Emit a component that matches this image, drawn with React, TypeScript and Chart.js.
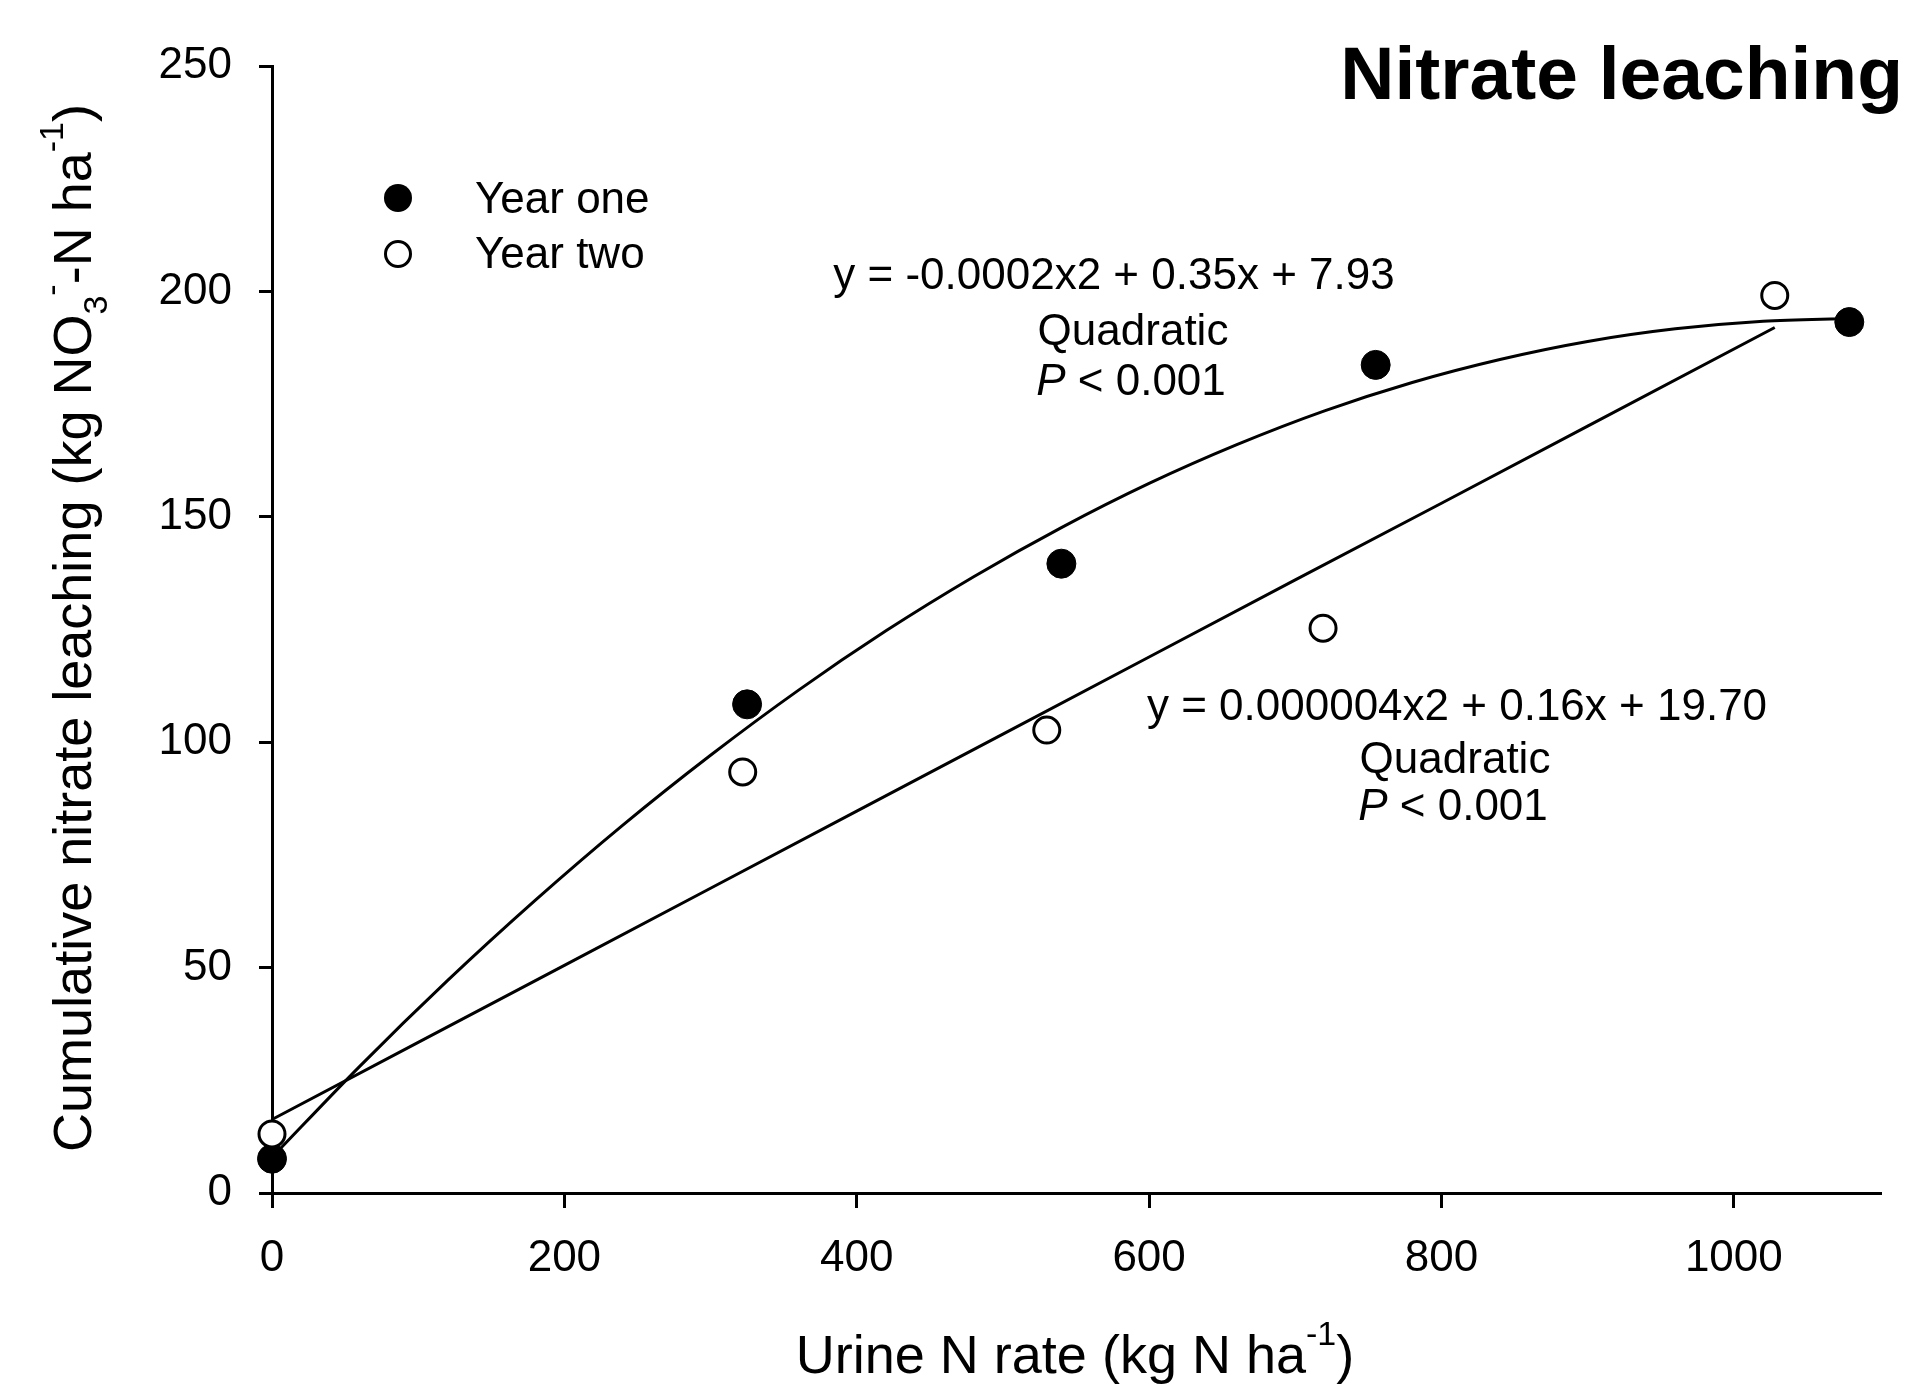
import React, { useEffect, useRef } from "react";
import { Chart, registerables } from "chart.js";

Chart.register(...registerables);

const FONT = "'Liberation Sans', Arial, Helvetica, sans-serif";

// Observed data
const yearOneX = [0, 325, 540, 755, 1079];
const yearOneY = [7.6, 108.4, 139.6, 183.7, 193.2];
const yearTwoX = [0, 322, 530, 719, 1028];
const yearTwoY = [13.1, 93.4, 102.7, 125.3, 199.1];

// Fitted curves
const fitOneX = [0, 60, 120, 180, 240, 300, 360, 420, 480, 540, 600, 660, 720, 780, 840, 900, 960, 1020, 1080];
const fitOneY = [7.9, 28.1, 47.1, 64.9, 81.6, 97.1, 111.5, 124.7, 136.7, 147.6, 157.4, 166.0, 173.5, 179.8, 184.9, 188.9, 191.7, 193.4, 194.0];
const fitTwoX = [0, 100, 200, 300, 400, 500, 600, 700, 800, 900, 1028];
const fitTwoY = [16.3, 33.4, 50.5, 67.6, 84.7, 101.8, 118.9, 136.0, 153.0, 170.1, 192.0];

const xTicks = [0, 200, 400, 600, 800, 1000];
const yTicks = [0, 50, 100, 150, 200, 250];

const legendLabels = ["Year one", "Year two"];
const eqOne = ["y = -0.0002x2 + 0.35x + 7.93", "Quadratic", "< 0.001"];
const eqTwo = ["y = 0.000004x2 + 0.16x + 19.70", "Quadratic", "< 0.001"];
const chartTitle = "Nitrate leaching";

type Part = { t: string; s: number; dy?: number; italic?: boolean; bold?: boolean };

function fontOf(p: Part) {
  return `${p.italic ? "italic " : ""}${p.bold ? "bold " : ""}${p.s}px ${FONT}`;
}

function drawParts(ctx: CanvasRenderingContext2D, parts: Part[], x: number, y: number, align: "left" | "center" | "right", baseline: CanvasTextBaseline = "alphabetic") {
  let total = 0;
  const widths = parts.map((p) => {
    ctx.font = fontOf(p);
    const w = ctx.measureText(p.t).width;
    total += w;
    return w;
  });
  let cx = align === "left" ? x : align === "center" ? x - total / 2 : x - total;
  ctx.textAlign = "left";
  ctx.textBaseline = baseline;
  parts.forEach((p, i) => {
    ctx.font = fontOf(p);
    ctx.fillText(p.t, cx, y + (p.dy || 0));
    cx += widths[i];
  });
}

const annotations = {
  id: "annotations",
  afterDraw(chart: any) {
    const ctx: CanvasRenderingContext2D = chart.ctx;
    ctx.save();
    ctx.fillStyle = "#000";

    // Title
    ctx.font = `bold 75px ${FONT}`;
    ctx.textAlign = "right";
    ctx.textBaseline = "alphabetic";
    ctx.fillText(chartTitle, 1903, 99);

    // Legend
    ctx.beginPath();
    ctx.arc(398, 198, 14, 0, Math.PI * 2);
    ctx.fill();
    ctx.beginPath();
    ctx.arc(398, 254, 12.5, 0, Math.PI * 2);
    ctx.fillStyle = "#fff";
    ctx.fill();
    ctx.lineWidth = 3;
    ctx.strokeStyle = "#000";
    ctx.stroke();
    ctx.fillStyle = "#000";
    ctx.font = `44px ${FONT}`;
    ctx.textAlign = "left";
    ctx.textBaseline = "middle";
    ctx.fillText(legendLabels[0], 475, 201);
    ctx.fillText(legendLabels[1], 475, 256);

    // Equations
    ctx.textAlign = "center";
    ctx.font = `44px ${FONT}`;
    ctx.fillText(eqOne[0], 1114, 277);
    ctx.fillText(eqOne[1], 1133, 333);
    drawParts(ctx, [{ t: "P", s: 44, italic: true }, { t: " " + eqOne[2], s: 44 }], 1131, 383, "center", "middle");
    ctx.textAlign = "center";
    ctx.font = `44px ${FONT}`;
    ctx.fillText(eqTwo[0], 1457, 708);
    ctx.fillText(eqTwo[1], 1455, 761);
    drawParts(ctx, [{ t: "P", s: 44, italic: true }, { t: " " + eqTwo[2], s: 44 }], 1453, 808, "center", "middle");

    // X axis title
    drawParts(
      ctx,
      [
        { t: "Urine N rate (kg N ha", s: 54 },
        { t: "-1", s: 34, dy: -28 },
        { t: ")", s: 54 },
      ],
      1075,
      1373,
      "center"
    );

    // Y axis title
    ctx.save();
    ctx.translate(91, 628);
    ctx.rotate(-Math.PI / 2);
    drawParts(
      ctx,
      [
        { t: "Cumulative nitrate leaching (kg NO", s: 54 },
        { t: "3", s: 34, dy: 16 },
        { t: "-", s: 34, dy: -28 },
        { t: "-N ha", s: 54 },
        { t: "-1", s: 34, dy: -28 },
        { t: ")", s: 54 },
      ],
      0,
      0,
      "center"
    );
    ctx.restore();

    ctx.restore();
  },
};

export default function App() {
  const canvasRef = useRef<HTMLCanvasElement | null>(null);

  useEffect(() => {
    if (!canvasRef.current) return;
    const pts = (xs: number[], ys: number[]) => xs.map((x, i) => ({ x, y: ys[i] }));
    const chart = new Chart(canvasRef.current, {
      type: "scatter",
      data: {
        datasets: [
          {
            label: "Year one fit",
            data: pts(fitOneX, fitOneY),
            showLine: true,
            borderColor: "#000",
            borderWidth: 3,
            pointRadius: 0,
            cubicInterpolationMode: "monotone",
            order: 3,
            clip: false,
          } as any,
          {
            label: "Year two fit",
            data: pts(fitTwoX, fitTwoY),
            showLine: true,
            borderColor: "#000",
            borderWidth: 3,
            pointRadius: 0,
            tension: 0,
            order: 3,
            clip: false,
          } as any,
          {
            label: legendLabels[0],
            data: pts(yearOneX, yearOneY),
            backgroundColor: "#000",
            borderColor: "#000",
            borderWidth: 1,
            pointRadius: 14.5,
            order: 2,
            clip: false,
          } as any,
          {
            label: legendLabels[1],
            data: pts(yearTwoX, yearTwoY),
            backgroundColor: "#fff",
            borderColor: "#000",
            borderWidth: 3,
            pointRadius: 13,
            order: 1,
            clip: false,
          } as any,
        ],
      },
      options: {
        responsive: false,
        animation: false,
        devicePixelRatio: 1,
        layout: { padding: { left: 0, right: 33, top: 66, bottom: 0 } },
        plugins: {
          legend: { display: false },
          title: { display: false },
          tooltip: { enabled: false },
        },
        events: [],
        scales: {
          x: {
            type: "linear",
            min: 0,
            max: 1100,
            afterBuildTicks: (axis: any) => {
              axis.ticks = xTicks.map((v) => ({ value: v }));
            },
            afterFit: (axis: any) => {
              axis.height = 193;
            },
            grid: {
              display: true,
              drawOnChartArea: false,
              drawTicks: true,
              tickLength: 15,
              color: "#000",
              lineWidth: 3,
            },
            border: { display: true, color: "#000", width: 3 },
            ticks: {
              color: "#000",
              font: { family: FONT, size: 44 },
              padding: 24,
              maxRotation: 0,
              autoSkip: false,
              callback: (v: any) => String(v),
            },
          },
          y: {
            type: "linear",
            min: 0,
            max: 250,
            afterBuildTicks: (axis: any) => {
              axis.ticks = yTicks.map((v) => ({ value: v }));
            },
            afterFit: (axis: any) => {
              axis.width = 272;
            },
            grid: {
              display: true,
              drawOnChartArea: false,
              drawTicks: true,
              tickLength: 13,
              color: "#000",
              lineWidth: 3,
            },
            border: { display: true, color: "#000", width: 3 },
            ticks: {
              color: "#000",
              font: { family: FONT, size: 44 },
              padding: 27,
              autoSkip: false,
              callback: (v: any) => String(v),
            },
          },
        },
      } as any,
      plugins: [annotations],
    });
    return () => chart.destroy();
  }, []);

  return (
    <div style={{ position: "absolute", left: 0, top: 0, width: 1913, height: 1386, background: "#fff" }}>
      <canvas ref={canvasRef} width={1913} height={1386} style={{ display: "block" }} />
    </div>
  );
}
